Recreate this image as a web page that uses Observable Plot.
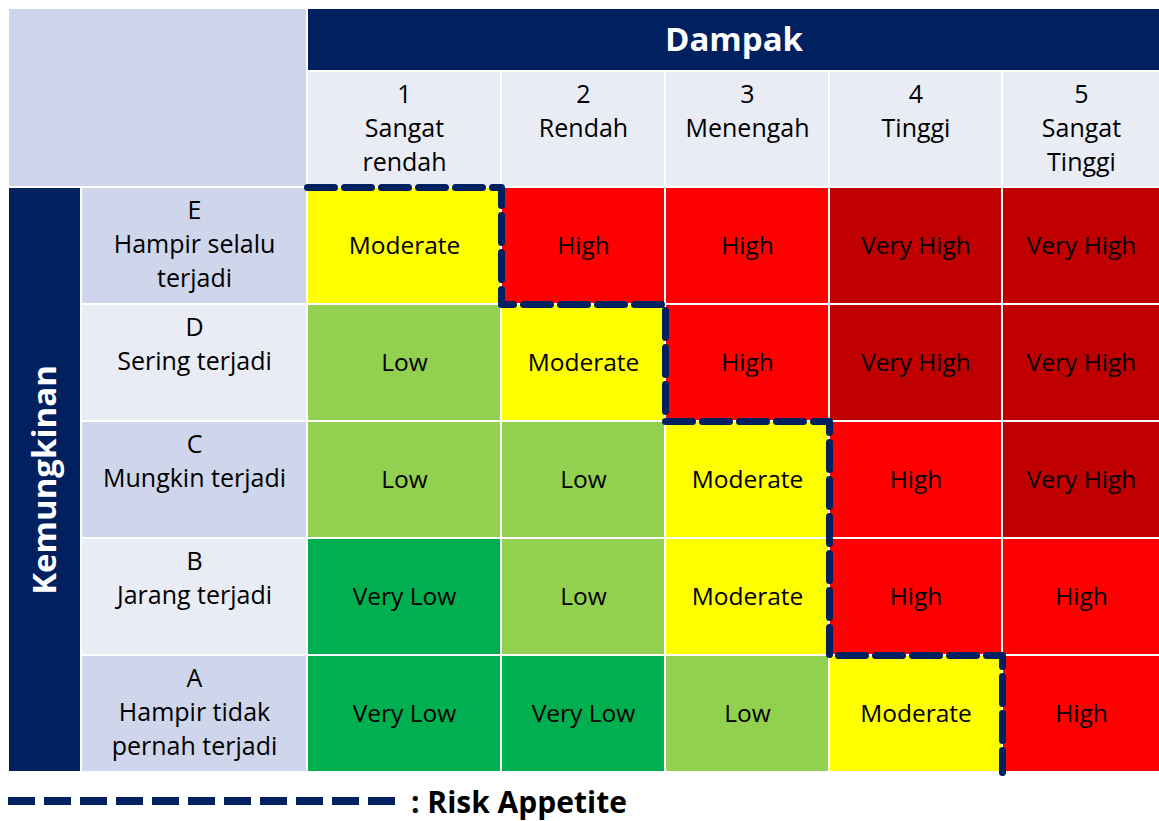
<!DOCTYPE html>
<html><head><meta charset="utf-8">
<script src="https://cdn.jsdelivr.net/npm/d3@7"></script>
<script src="https://cdn.jsdelivr.net/npm/@observablehq/plot@0.6"></script>
<style>
body{margin:0;background:#fff;font-family:"Open Sans",sans-serif;}
#legend{display:flex;align-items:center;height:46px;margin-left:8px;}
#legend span{font-weight:700;font-size:30px;color:#000;margin-left:13px;}
</style></head><body>
<div id="chart"></div>
<div id="legend"></div>
<script>
// ---- data ----
const impactTitle = "Dampak";
const likelihoodTitle = "Kemungkinan";
const impactNumbers = ["1", "2", "3", "4", "5"];
const impactNames = ["Sangat\nrendah", "Rendah", "Menengah", "Tinggi", "Sangat\nTinggi"];
const likelihoodCodes = ["E", "D", "C", "B", "A"];
const likelihoodNames = ["Hampir selalu\nterjadi", "Sering terjadi", "Mungkin terjadi", "Jarang terjadi", "Hampir tidak\npernah terjadi"];
const levelNames = ["Very Low", "Low", "Moderate", "High", "Very High"];
const levelColors = ["#00B050", "#92D050", "#FFFF00", "#FF0000", "#C00000"];
const rowE = ["Moderate", "High", "High", "Very High", "Very High"];
const rowD = ["Low", "Moderate", "High", "Very High", "Very High"];
const rowC = ["Low", "Low", "Moderate", "High", "Very High"];
const rowB = ["Very Low", "Low", "Moderate", "High", "High"];
const rowA = ["Very Low", "Very Low", "Low", "Moderate", "High"];
const appetiteLevel = "Moderate";
const legendLabel = ": Risk Appetite";

// ---- derived tables ----
const navy = "#002060", shadeDark = "#CFD5EA", shadeLight = "#E9EBF5";
const matrix = [rowE, rowD, rowC, rowB, rowA];
const cells = [];
matrix.forEach((row, r) => row.forEach((level, c) => cells.push({c, r, level})));
const headers = impactNumbers.map((n, c) => ({c, label: n + "\n" + impactNames[c]}));
const rowLabels = likelihoodCodes.map((code, r) => ({r, label: code + "\n" + likelihoodNames[r], fill: r % 2 === 0 ? shadeDark : shadeLight}));
const appIdx = levelNames.indexOf(appetiteLevel);
const boundary = impactNumbers.map((_, c) => {
  let count = 0;
  for (let r = matrix.length - 1; r >= 0; r--) {
    if (levelNames.indexOf(matrix[r][c]) <= appIdx) count++; else break;
  }
  return {x: c, y: 2 + (matrix.length - count)};
});

// piecewise table scales (column/row boundaries)
const xDomain = [-2, -1, 0, 1, 2, 3, 4, 5], xRange = [8, 81, 307, 501, 665, 829, 1002, 1160];
const yDomain = [0, 1, 2, 3, 4, 5, 6, 7], yRange = [8, 71, 187, 304, 421, 538, 655, 772];
const sx = d3.scaleLinear(xDomain, xRange), sy = d3.scaleLinear(yDomain, yRange);
const xMid = (a, b) => sx.invert((sx(a) + sx(b)) / 2);
const yMid = (a, b) => sy.invert((sy(a) + sy(b)) / 2);

const FONT = "Open Sans";
const FS = 25;
const chart = Plot.plot({
  width: 1159,
  height: 778,
  margin: 0,
  style: {fontFamily: FONT, background: "#fff"},
  x: {type: "linear", domain: xDomain, range: xRange, axis: null},
  y: {type: "linear", domain: yDomain, range: yRange, axis: null},
  color: {domain: levelNames, range: levelColors},
  marks: [
    Plot.rect([{}], {x1: -2, x2: 0, y1: 0, y2: 2, fill: shadeDark, inset: 1}),
    Plot.rect([{}], {x1: 0, x2: 5, y1: 0, y2: 1, fill: navy, inset: 1}),
    Plot.text([impactTitle], {x: xMid(0, 5), y: yMid(0, 1), text: d => d, fill: "#fff", fontSize: 33, fontWeight: 700, fontFamily: FONT}),
    Plot.rect(headers, {x1: d => d.c, x2: d => d.c + 1, y1: 1, y2: 2, fill: shadeLight, inset: 1}),
    Plot.text(headers, {x: d => xMid(d.c, d.c + 1), y: 1, text: "label", lineAnchor: "top", dy: 7, fontSize: FS, lineHeight: 34 / FS, fill: "#000", fontFamily: FONT}),
    Plot.rect([{}], {x1: -2, x2: -1, y1: 2, y2: 7, fill: navy, inset: 1}),
    Plot.text([likelihoodTitle], {x: xMid(-2, -1), y: yMid(2, 7), text: d => d, rotate: -90, fill: "#fff", fontSize: 33, fontWeight: 700, fontFamily: FONT}),
    Plot.rect(rowLabels, {x1: -1, x2: 0, y1: d => 2 + d.r, y2: d => 3 + d.r, fill: "fill", inset: 1}),
    Plot.text(rowLabels, {x: xMid(-1, 0), y: d => 2 + d.r, text: "label", lineAnchor: "top", dy: 7, fontSize: FS, lineHeight: 34 / FS, fill: "#000", fontFamily: FONT}),
    Plot.rect(cells, {x1: "c", x2: d => d.c + 1, y1: d => 2 + d.r, y2: d => 3 + d.r, fill: "level", inset: 1}),
    Plot.text(cells, {x: d => xMid(d.c, d.c + 1), y: d => yMid(2 + d.r, 3 + d.r), text: "level", fontSize: 24.5, fill: "#000", fontFamily: FONT}),
    Plot.line(boundary, {x: "x", y: "y", curve: "step-after", stroke: navy, strokeWidth: 7, strokeDasharray: "27,10"})
  ]
});
document.getElementById("chart").appendChild(chart);

// legend
const lg = document.getElementById("legend");
const svgNS = "http://www.w3.org/2000/svg";
const ls = document.createElementNS(svgNS, "svg");
ls.setAttribute("width", 390); ls.setAttribute("height", 12);
const ln = document.createElementNS(svgNS, "line");
ln.setAttribute("x1", 0); ln.setAttribute("x2", 390); ln.setAttribute("y1", 6); ln.setAttribute("y2", 6);
ln.setAttribute("stroke", navy); ln.setAttribute("stroke-width", 8); ln.setAttribute("stroke-dasharray", "27,9");
ls.appendChild(ln); lg.appendChild(ls);
const sp = document.createElement("span"); sp.textContent = legendLabel; lg.appendChild(sp);
</script>
</body></html>
